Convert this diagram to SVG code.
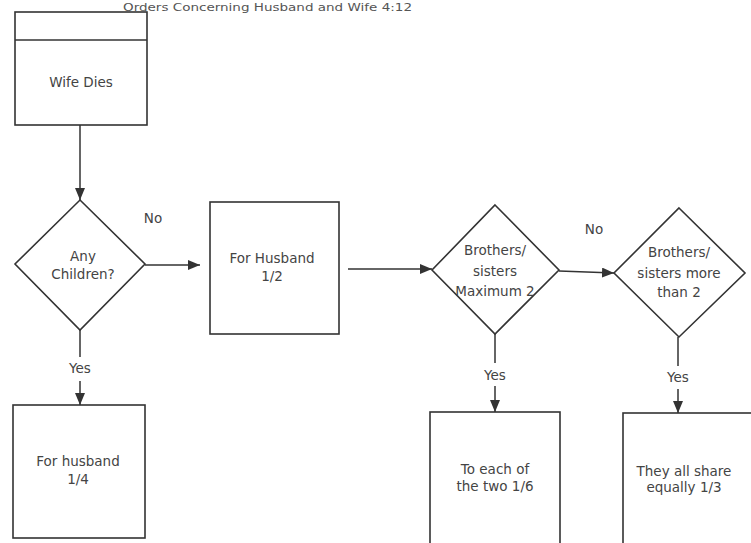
<svg xmlns="http://www.w3.org/2000/svg" width="751" height="543" viewBox="0 0 751 543">
<defs>
<style>
.s{fill:#fff;stroke:#333;stroke-width:1.6}
.t{font-family:"DejaVu Sans","Liberation Sans",sans-serif;font-size:13.5px;fill:#444;text-anchor:middle}
.c{stroke:#333;stroke-width:1.5;fill:none}
</style>
<marker id="ah" markerWidth="12" markerHeight="10" refX="12" refY="5" orient="auto" markerUnits="userSpaceOnUse">
<path d="M0,0 L12,5 L0,10 Z" fill="#333"/>
</marker>
</defs>
<rect width="751" height="543" fill="#fff"/>
<text x="123" y="11" font-family="DejaVu Sans, sans-serif" font-size="11" fill="#555" textLength="289" lengthAdjust="spacingAndGlyphs">Orders Concerning Husband and Wife 4:12</text>

<g id="connectors">
<line class="c" x1="80" y1="125" x2="80" y2="200" marker-end="url(#ah)"/>
<line class="c" x1="145" y1="265" x2="200" y2="265" marker-end="url(#ah)"/>
<line class="c" x1="348" y1="269" x2="432" y2="269" marker-end="url(#ah)"/>
<line class="c" x1="559" y1="271" x2="614" y2="273" marker-end="url(#ah)"/>
<line class="c" x1="80" y1="330" x2="80" y2="357"/>
<line class="c" x1="80" y1="381" x2="80" y2="405" marker-end="url(#ah)"/>
<line class="c" x1="495" y1="334" x2="495" y2="363"/>
<line class="c" x1="495" y1="386" x2="495" y2="412" marker-end="url(#ah)"/>
<line class="c" x1="678" y1="337" x2="678" y2="366"/>
<line class="c" x1="678" y1="389" x2="678" y2="413" marker-end="url(#ah)"/>
<text class="t" x="153" y="223">No</text>
<text class="t" x="594" y="234">No</text>
<text class="t" x="80" y="373">Yes</text>
<text class="t" x="495" y="380">Yes</text>
<text class="t" x="678" y="382">Yes</text>
</g>

<g id="wife-dies">
<rect class="s" x="15" y="12" width="132" height="113"/>
<line class="c" x1="15" y1="40" x2="147" y2="40"/>
<text class="t" x="81" y="87">Wife Dies</text>
</g>

<g id="any-children">
<polygon class="s" points="80,200 145,264 80,330 15,264"/>
<text class="t" x="83" y="261">Any</text>
<text class="t" x="83" y="279">Children?</text>
</g>

<g id="husband-half">
<rect class="s" x="210" y="202" width="129" height="132"/>
<text class="t" x="272" y="263">For Husband</text>
<text class="t" x="272" y="281">1/2</text>
</g>

<g id="siblings-max2">
<polygon class="s" points="495,205 559,270 495,334 432,270"/>
<text class="t" x="495" y="255">Brothers/</text>
<text class="t" x="495" y="276">sisters</text>
<text class="t" x="495" y="296">Maximum 2</text>
</g>

<g id="siblings-more2">
<polygon class="s" points="679,208 745,273 679,337 614,273"/>
<text class="t" x="679" y="257">Brothers/</text>
<text class="t" x="679" y="278">sisters more</text>
<text class="t" x="679" y="297">than 2</text>
</g>

<g id="husband-quarter">
<rect class="s" x="13" y="405" width="132" height="133"/>
<text class="t" x="78" y="466">For husband</text>
<text class="t" x="78" y="484">1/4</text>
</g>

<g id="each-sixth">
<rect class="s" x="430" y="412" width="130" height="135"/>
<text class="t" x="495" y="474">To each of</text>
<text class="t" x="495" y="491">the two 1/6</text>
</g>

<g id="share-third">
<rect class="s" x="623" y="413" width="132" height="135"/>
<text class="t" x="684" y="476">They all share</text>
<text class="t" x="684" y="492">equally 1/3</text>
</g>
</svg>
